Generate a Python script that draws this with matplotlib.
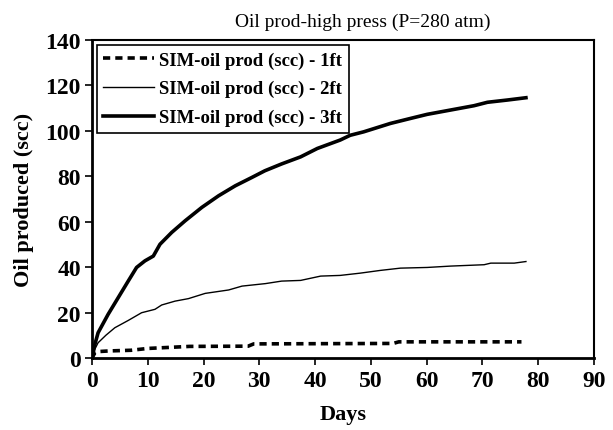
import numpy as np
import matplotlib
matplotlib.use('Agg')
import matplotlib.pyplot as plt

plt.rcParams['font.family'] = ['Liberation Serif', 'DejaVu Serif']

# 1ft series
days_1ft = [0, 0.5, 1, 3, 7, 10, 15, 17.5, 28, 29, 54, 55, 77]
oil_1ft = [0, 2.5, 3.0, 3.3, 3.6, 4.4, 5.0, 5.3, 5.4, 6.4, 6.6, 7.3, 7.3]

# 2ft series
days_2ft = [0, 0.5, 1.1, 2.5, 4.1, 6.5, 8.9, 11.3, 12.5, 14.9, 17.3, 20.3, 24.5, 26.9,
            31.1, 34, 37.4, 41, 44.5, 48.1, 51.7, 55.3, 60.1, 64.3, 70.3, 71.5, 75.7, 77.8]
oil_2ft = [0, 4.0, 6.9, 10.2, 13.5, 16.7, 20.1, 21.6, 23.5, 25.2, 26.3, 28.6, 30.1, 31.8,
           32.9, 34.0, 34.3, 36.2, 36.5, 37.5, 38.7, 39.7, 40.0, 40.6, 41.2, 41.9, 41.9, 42.6]

# 3ft series
days_3ft = [0, 0.5, 1.1, 2.9, 4.7, 6.5, 8.0, 9.5, 11.0, 12.2, 14.3, 16.7, 19.7, 22.7, 25.7,
            28.7, 31, 34, 37.4, 40.4, 44.5, 46.3, 48.7, 53.5, 57.1, 60.1, 64.3, 68.5, 70.9,
            74.5, 77.8]
oil_3ft = [0, 6.0, 11.3, 19.4, 26.7, 34.0, 40.0, 42.9, 45.0, 50.2, 55.4, 60.5, 66.4, 71.5, 75.9,
           79.6, 82.5, 85.5, 88.6, 92.3, 96.0, 98.1, 99.6, 103.3, 105.5, 107.3, 109.2, 111.1, 112.6,
           113.6, 114.6]

fig = plt.figure(figsize=(6.13, 4.31), dpi=100)
ax = fig.add_axes([0.150, 0.166, 0.819, 0.739])

ax.plot(days_1ft, oil_1ft, color='black', linewidth=2.6, linestyle=(0, (2, 1.4)),
        dash_capstyle='butt', label='SIM-oil prod (scc) - 1ft')
ax.plot(days_2ft, oil_2ft, color='black', linewidth=1.0, label='SIM-oil prod (scc) - 2ft')
ax.plot(days_3ft, oil_3ft, color='black', linewidth=2.6, label='SIM-oil prod (scc) - 3ft')

ax.set_xlim(0, 90)
ax.set_ylim(0, 140)
ax.set_xticks(np.arange(0, 91, 10))
ax.set_yticks(np.arange(0, 141, 20))
ax.tick_params(direction='out', length=5, width=1.2, labelsize=17, pad=3)
for lab in ax.get_xticklabels() + ax.get_yticklabels():
    lab.set_fontweight('bold')
for s in ax.spines.values():
    s.set_linewidth(1.5)
ax.spines['left'].set_linewidth(2)
ax.spines['bottom'].set_linewidth(2)

fig.text(363 / 613, 1 - 22 / 431, 'Oil prod-high press (P=280 atm)', fontsize=14,
         ha='center', va='center')
ax.set_xlabel('Days', fontsize=16, fontweight='bold', labelpad=10)
ax.set_ylabel('Oil produced (scc)', fontsize=16, fontweight='bold', labelpad=8)

leg = ax.legend(loc='upper left', prop={'weight': 'bold', 'size': 13.5},
                frameon=True, fancybox=False, edgecolor='black', framealpha=1,
                handlelength=2.7, handletextpad=0.3, labelspacing=0.62,
                borderaxespad=0.25, borderpad=0.35)
leg.get_frame().set_linewidth(1.2)

plt.savefig('out.png', dpi=100)
